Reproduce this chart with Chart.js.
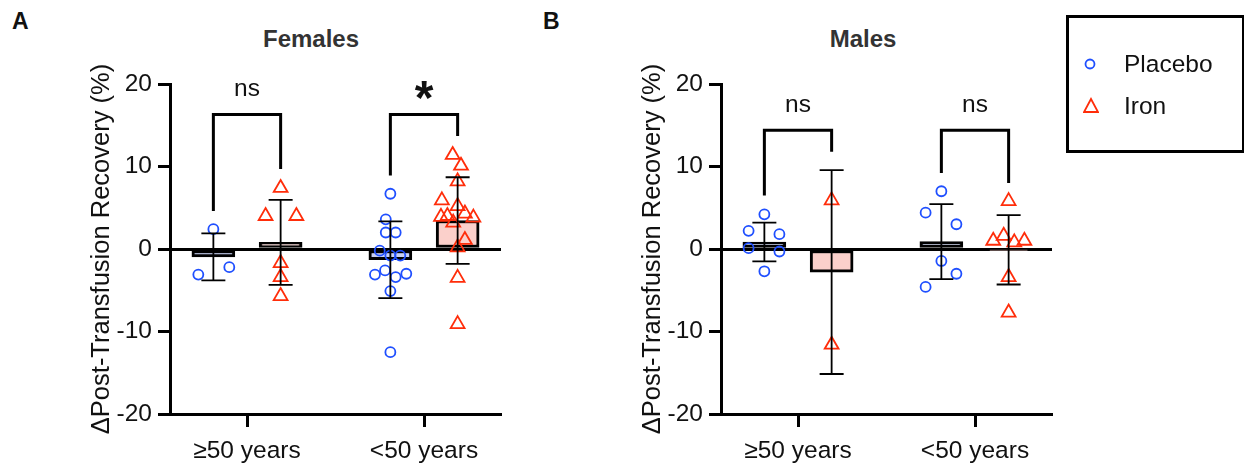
<!DOCTYPE html>
<html>
<head>
<meta charset="utf-8">
<script src="https://cdn.jsdelivr.net/npm/chart.js@4.4.1/dist/chart.umd.min.js"></script>
<style>
	body {margin: 0; width: 1244px; height: 469px; background: #fff; position: relative; overflow: hidden; font-family: "Liberation Sans", Arial, sans-serif;}
	.panel {position: absolute; top: 0;}
	.letter {position: absolute; font-weight: bold; font-size: 23px; color: #111; line-height: 1;}
	.title {position: absolute; font-weight: bold; font-size: 24px; color: #333; line-height: 1; transform: translateX(-50%);}
	#legend {position: absolute; left: 1066px; top: 15px; width: 173px; height: 132px; border: 3px solid #000;}
	#legend .row {position: absolute; left: 0; height: 24px; display: flex; align-items: center;}
	#legend svg {position: absolute; left: 14px;}
	#legend span {position: absolute; left: 55px; font-size: 24.5px; white-space: nowrap; color: #111;}
</style>
</head>
<body>

<div class="letter" style="left: 12px; top: 10px;">A</div>
<div class="letter" style="left: 543px; top: 10px;">B</div>
<div class="title" style="left: 311px; top: 27px;">Females</div>
<div class="title" style="left: 863px; top: 27px;">Males</div>

<canvas id="females" class="panel" style="left: 0px;" width="520" height="469"></canvas>
<canvas id="males" class="panel" style="left: 551px;" width="520" height="469"></canvas>

<div id="legend">
	<div class="row" style="top: 34px;">
		<svg width="14" height="24"><circle cx="7" cy="12" r="4.5" fill="none" stroke="#1f4fff" stroke-width="1.8"/></svg>
		<span>Placebo</span>
	</div>
	<div class="row" style="top: 76px;">
		<svg width="16" height="24"><polygon points="8,5 15,18 1,18" fill="none" stroke="#ff2d0a" stroke-width="1.8"/></svg>
		<span>Iron</span>
	</div>
</div>

<script>
// Group labels (x axis), one entry per age group
const groupLabels = ['≥50 years', '<50 years'];

// Females: individual values, per age group
const femalePlacebo = [
	[2.4, -3.1, -2.2],
	[6.7, 3.6, 2.0, 2.0, -0.2, -0.8, -0.8, -2.6, -3.1, -3.4, -3.0, -5.1, -12.5]
];
const femalePlaceboJitter = [
	[0, -0.085, 0.09],
	[0, -0.026, -0.026, 0.03, -0.06, 0, 0.056, -0.03, -0.087, 0.03, 0.09, 0, 0]
];
const femaleIron = [
	[7.4, 4.0, 4.0, -1.7, -3.4, -5.7],
	[11.4, 10.1, 8.2, 5.9, 5.2, 4.0, 4.3, 3.8, 3.9, 3.2, 1.1, 0.2, -3.5, -9.1]
];
const femaleIronJitter = [
	[0, -0.085, 0.089, 0, 0, 0],
	[-0.028, 0.019, 0, -0.089, 0, -0.058, 0.041, 0.089, -0.094, -0.025, 0.041, 0, 0, 0]
];
const femalePlaceboMean = [-0.95, -1.3];
const femalePlaceboSd = [2.85, 4.65];
const femaleIronMean = [0.8, 3.45];
const femaleIronSd = [5.15, 5.25];

// Males: individual values, per age group
const malePlacebo = [
	[4.2, 2.2, 1.8, 0.1, -0.3, -2.7],
	[7.0, 4.4, 3.0, -1.45, -3.0, -4.6]
];
const malePlaceboJitter = [
	[0, -0.089, 0.085, -0.089, 0.085, 0],
	[0, -0.089, 0.085, 0, 0.085, -0.089]
];
const maleIron = [
	[5.9, -11.6],
	[5.8, 1.6, 1.0, 0.8, 1.0, -3.4, -7.7]
];
const maleIronJitter = [
	[0, 0],
	[0, -0.028, -0.087, 0.032, 0.089, 0, 0]
];
const malePlaceboMean = [0.85, 0.9];
const malePlaceboSd = [2.35, 4.55];
const maleIronMean = [-2.8, -0.1];
const maleIronSd = [12.35, 4.2];

// Significance brackets: [left leg end, bracket top, right leg end] and label
const femaleBrackets = [[4.6, 16.3, 9.7], [8.9, 16.3, 13.7]];
const femaleSig = ['ns', '*'];
const maleBrackets = [[6.5, 14.4, 11.8], [9.2, 14.4, 8.0]];
const maleSig = ['ns', 'ns'];

const yTicks = [-20, -10, 0, 10, 20];

const FONT = '"Liberation Sans", Arial, sans-serif';
const placeboColour = '#1f4fff';
const ironColour = '#ff2d0a';
const offset = 0.19;	// Half distance between placebo and iron within a group


// Error bars (mean +/- SD) drawn over the bars
const errorBarPlugin = {
	id: 'errorBars',
	afterDatasetsDraw (chart) {
		const {ctx, scales: {x, y}} = chart;
		ctx.save();
		ctx.strokeStyle = '#000';
		ctx.lineWidth = 1.8;
		chart.data.datasets.forEach(ds => {
			if (!ds.sd) {return;}
			ds.data.forEach((d, i) => {
				const px = x.getPixelForValue(d.x);
				const top = y.getPixelForValue(d.y + ds.sd[i]);
				const bottom = y.getPixelForValue(d.y - ds.sd[i]);
				ctx.beginPath();
				ctx.moveTo(px, top); ctx.lineTo(px, bottom);
				ctx.moveTo(px - 12, top); ctx.lineTo(px + 12, top);
				ctx.moveTo(px - 12, bottom); ctx.lineTo(px + 12, bottom);
				ctx.stroke();
			});
		});
		ctx.restore();
	}
};

// Significance brackets and their labels
const bracketPlugin = {
	id: 'brackets',
	afterDraw (chart, args, opts) {
		const {ctx, scales: {x, y}} = chart;
		ctx.save();
		ctx.strokeStyle = '#000';
		ctx.lineWidth = 3;
		ctx.fillStyle = '#111';
		ctx.textAlign = 'center';
		opts.items.forEach((b, g) => {
			const x1 = x.getPixelForValue(g + 1 - offset);
			const x2 = x.getPixelForValue(g + 1 + offset);
			const top = y.getPixelForValue(b[1]);
			ctx.beginPath();
			ctx.moveTo(x1, y.getPixelForValue(b[0]));
			ctx.lineTo(x1, top);
			ctx.lineTo(x2, top);
			ctx.lineTo(x2, y.getPixelForValue(b[2]));
			ctx.stroke();
			const cx = x.getPixelForValue(g + 1);
			if (opts.labels[g] === '*') {
				ctx.font = 'bold 48px ' + FONT;
				ctx.textBaseline = 'alphabetic';
				ctx.fillText('*', cx, top - 1);
			} else {
				ctx.font = '24.5px ' + FONT;
				ctx.textBaseline = 'middle';
				ctx.fillText(opts.labels[g], cx, top - opts.labelGap);
			}
		});
		ctx.restore();
	}
};


// Function to create one panel
function createPanel (canvasId, placebo, placeboJitter, iron, ironJitter, placeboMean, placeboSd, ironMean, ironSd, brackets, sig, labelGap)
{
	const points = (values, jitter, shift) => values.flatMap((group, g) => group.map((v, i) => ({x: g + 1 + shift + jitter[g][i], y: v})));
	const bars = (means, shift) => means.map((m, g) => ({x: g + 1 + shift, y: m}));

	return new Chart(document.getElementById(canvasId), {
		data: {
			datasets: [
				{
					type: 'scatter',
					label: 'Placebo',
					data: points(placebo, placeboJitter, -offset),
					pointStyle: 'circle',
					pointRadius: 5,
					pointHoverRadius: 5,
					borderColor: placeboColour,
					backgroundColor: 'transparent',
					borderWidth: 1.8,
					order: 1
				},
				{
					type: 'scatter',
					label: 'Iron',
					data: points(iron, ironJitter, offset),
					pointStyle: 'triangle',
					pointRadius: 8,
					pointHoverRadius: 8,
					borderColor: ironColour,
					backgroundColor: 'transparent',
					borderWidth: 1.8,
					order: 1
				},
				{
					type: 'bar',
					label: 'Placebo mean',
					data: bars(placeboMean, -offset),
					sd: placeboSd,
					backgroundColor: '#c6cff3',
					borderColor: '#000',
					borderWidth: 3,
					borderSkipped: false,
					barThickness: 43,
					grouped: false,
					order: 2
				},
				{
					type: 'bar',
					label: 'Iron mean',
					data: bars(ironMean, offset),
					sd: ironSd,
					backgroundColor: '#fbd0cb',
					borderColor: '#000',
					borderWidth: 3,
					borderSkipped: false,
					barThickness: 43,
					grouped: false,
					order: 2
				}
			]
		},
		options: {
			responsive: false,
			animation: false,
			events: [],
			layout: {padding: {top: 84, left: 0, right: 19, bottom: 0}},
			plugins: {
				legend: {display: false},
				tooltip: {enabled: false},
				brackets: {items: brackets, labels: sig, labelGap: labelGap}
			},
			scales: {
				x: {
					type: 'linear',
					min: 1 - 77 / 177,
					max: 2 + 77 / 177,
					offset: false,
					afterBuildTicks: scale => {scale.ticks = [{value: 1}, {value: 2}];},
					afterFit: scale => {scale.height = 55;},
					ticks: {
						callback: v => groupLabels[v - 1],
						color: '#111',
						font: {family: FONT, size: 24.5},
						padding: 10,
						maxRotation: 0
					},
					grid: {offset: false, drawOnChartArea: false, drawTicks: true, tickLength: 13, tickColor: '#000', tickWidth: 3},
					border: {display: true, color: '#000', width: 3}
				},
				y: {
					min: -20,
					max: 20,
					afterBuildTicks: scale => {scale.ticks = yTicks.map(v => ({value: v}));},
					afterFit: scale => {scale.width = 170;},
					ticks: {
						color: '#111',
						font: {family: FONT, size: 24.5},
						padding: 6
					},
					grid: {
						drawOnChartArea: true,
						color: ctx => (ctx.tick && ctx.tick.value === 0 ? '#000' : 'rgba(0,0,0,0)'),
						lineWidth: 3,
						tickLength: 12,
						tickColor: '#000',
						tickWidth: 3
					},
					border: {display: true, color: '#000', width: 3},
					title: {
						display: true,
						text: 'ΔPost-Transfusion Recovery (%)',
						color: '#111',
						font: {family: FONT, size: 25.5},
						padding: {top: 87, bottom: 0}
					}
				}
			}
		},
		plugins: [errorBarPlugin, bracketPlugin]
	});
}

createPanel('females', femalePlacebo, femalePlaceboJitter, femaleIron, femaleIronJitter, femalePlaceboMean, femalePlaceboSd, femaleIronMean, femaleIronSd, femaleBrackets, femaleSig, 25);
createPanel('males', malePlacebo, malePlaceboJitter, maleIron, maleIronJitter, malePlaceboMean, malePlaceboSd, maleIronMean, maleIronSd, maleBrackets, maleSig, 25);
</script>
</body>
</html>
